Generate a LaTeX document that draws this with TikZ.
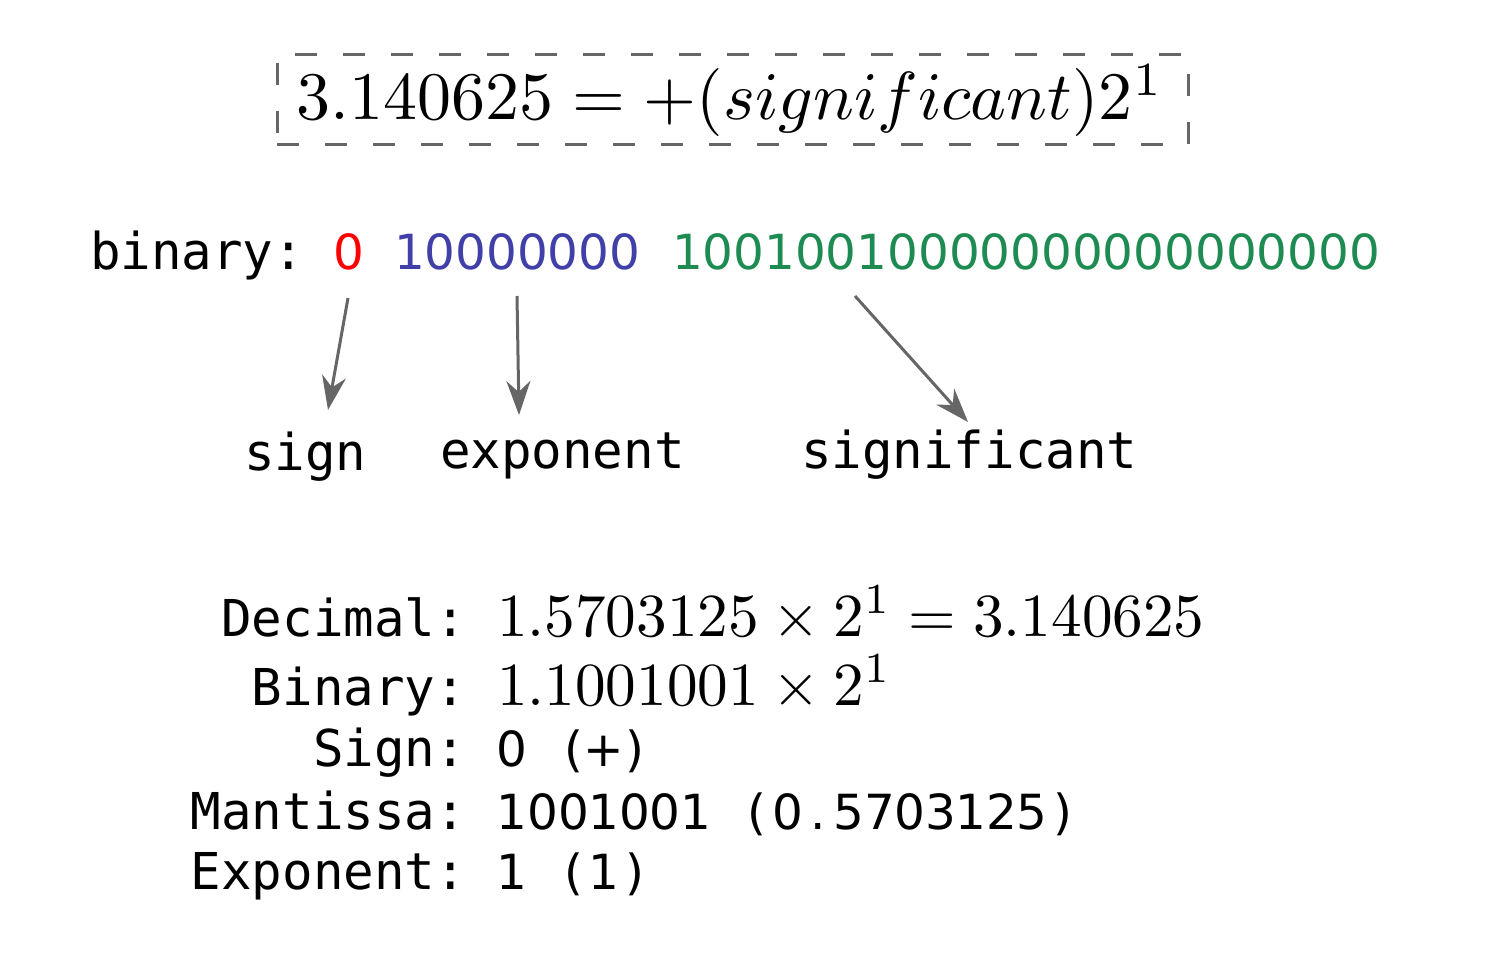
\documentclass[tikz,border=0pt]{standalone}
\usepackage{fontspec}
\usetikzlibrary{arrows.meta}
\newfontfamily\monofont{DejaVu Sans Mono}
\newfontfamily\digitfont{DejaVu Sans}
\definecolor{signred}{RGB}{255,0,0}
\definecolor{expblue}{RGB}{64,64,168}
\definecolor{sigGreen}{RGB}{30,140,82}
\definecolor{arrowgray}{RGB}{102,102,102}
\newcommand{\mc}[1]{\makebox[15.3pt]{#1}}
\tikzset{
  mono/.style={font=\monofont\fontsize{25.4pt}{30pt}\selectfont, inner sep=0pt, outer sep=0pt},
  digits/.style={font=\digitfont\fontsize{24.2pt}{30pt}\selectfont, inner sep=0pt, outer sep=0pt},
  mathnode/.style={inner sep=0pt, outer sep=0pt},
  pointer/.style={draw=arrowgray, line width=1.5pt, -{Stealth[length=17pt,width=12pt]}},
  dashbox/.style={draw=arrowgray, line width=1.5pt, dash pattern=on 11pt off 13pt}
}
\begin{document}
\begin{tikzpicture}[x=0.5pt,y=-0.5pt]
\useasboundingbox (0,0) rectangle (1503,957);
% title
\node[dashbox, minimum width=455.5pt, minimum height=45pt] (box) at (732.5,100) {};
\node[mathnode, anchor=base] (title) at (730,120) {\scalebox{3.4}{$3.140625 = +(significant)2^1$}};
% binary line
\node[mono, anchor=base west] (binlab) at (90,270) {binary:};
\node[digits, anchor=base west, text=signred] (sbit) at (333,270) {0};
\node[digits, anchor=base west, text=expblue] (ebits) at (394,270) {10000000};
\node[digits, anchor=base west, text=sigGreen] (mbits) at (672,270) {10010010000000000000000};
% labels
\node[mono, anchor=base west] (signlab) at (244,470) {sign};
\node[mono, anchor=base west] (explab) at (440,468) {exponent};
\node[mono, anchor=base west] (siglab) at (801,468) {significant};
% arrow endpoints
\coordinate (s0) at (348,298);
\coordinate (s1) at (328,410);
\coordinate (e0) at (517,296);
\coordinate (e1) at (519,415);
\coordinate (m0) at (855,296);
\coordinate (m1) at (968,422);
\draw[pointer] (s0) -- (s1);
\draw[pointer] (e0) -- (e1);
\draw[pointer] (m0) -- (m1);
% bottom table
\node[mono, anchor=base east] (l1) at (466,636) {Decimal:};
\node[mono, anchor=base east] (l2) at (466,705) {Binary:};
\node[mono, anchor=base east] (l3) at (466,766) {Sign:};
\node[mono, anchor=base east] (l4) at (466,829) {Mantissa:};
\node[mono, anchor=base east] (l5) at (466,889) {Exponent:};
\node[mathnode, anchor=base west] (v1) at (497,636) {\scalebox{3.06}{$1.5703125\times 2^1 = 3.140625$}};
\node[mathnode, anchor=base west] (v2) at (497,705) {\scalebox{3.06}{$1.1001001\times 2^1$}};
\node[digits, anchor=base west] (v3) at (497,766) {\mc{0}\mc{ }\mc{(}\mc{+}\mc{)}};
\node[digits, anchor=base west] (v4) at (497,829) {\mc{1}\mc{0}\mc{0}\mc{1}\mc{0}\mc{0}\mc{1}\mc{ }\mc{(}\mc{0}\mc{.}\mc{5}\mc{7}\mc{0}\mc{3}\mc{1}\mc{2}\mc{5}\mc{)}};
\node[digits, anchor=base west] (v5) at (497,889) {\mc{1}\mc{ }\mc{(}\mc{1}\mc{)}};
\end{tikzpicture}
\end{document}
